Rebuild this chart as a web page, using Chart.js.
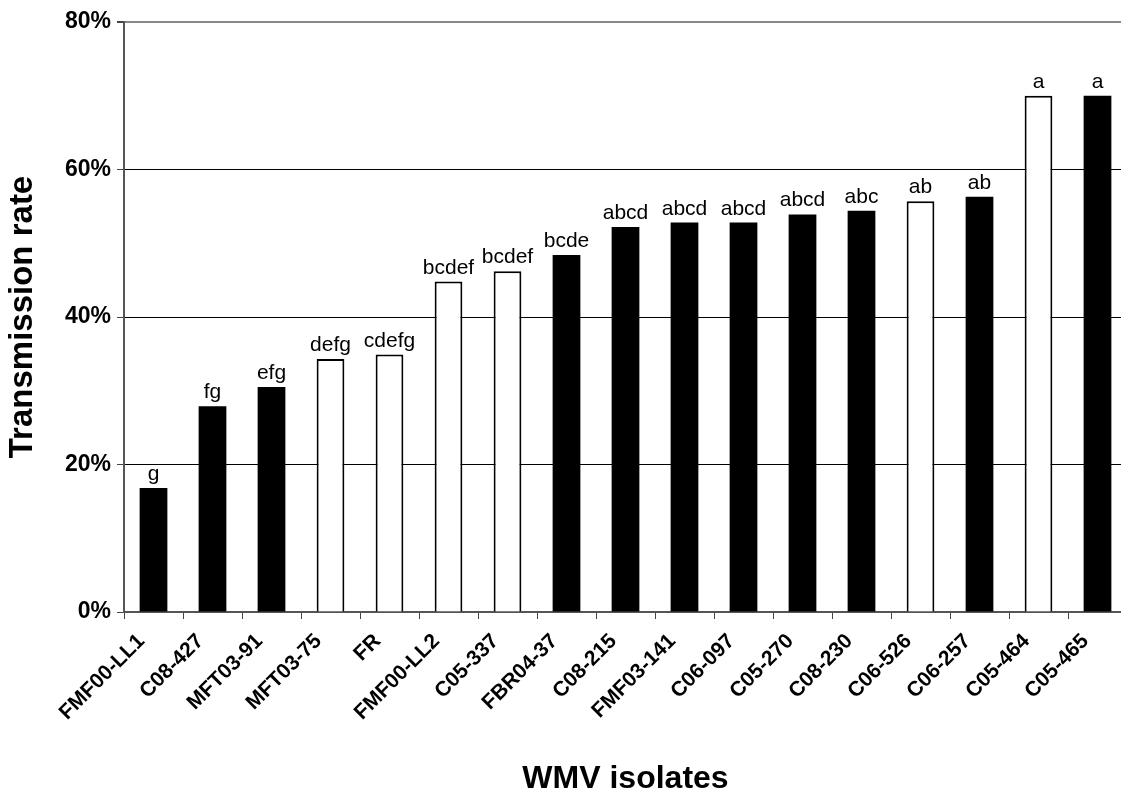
<!DOCTYPE html>
<html>
<head>
<meta charset="utf-8">
<script src="https://cdn.jsdelivr.net/npm/chart.js@4"></script>
<style>
  html, body { margin: 0; padding: 0; background: #fff; overflow: hidden; }
</style>
</head>
<body>
<canvas id="chart" width="1135" height="789"></canvas>
<script>
const isolates = ['FMF00-LL1', 'C08-427', 'MFT03-91', 'MFT03-75', 'FR', 'FMF00-LL2', 'C05-337',
    'FBR04-37', 'C08-215', 'FMF03-141', 'C06-097', 'C05-270', 'C08-230', 'C06-526',
    'C06-257', 'C05-464', 'C05-465'];
const rates = [16.8, 27.9, 30.5, 34.3, 34.9, 44.8, 46.2, 48.4, 52.2, 52.8, 52.8, 53.9, 54.4,
    55.7, 56.3, 70.0, 70.0];
const groups = ['g', 'fg', 'efg', 'defg', 'cdefg', 'bcdef', 'bcdef', 'bcde', 'abcd', 'abcd',
    'abcd', 'abcd', 'abc', 'ab', 'ab', 'a', 'a'];
// true = open (white) bar
const openBar = [false, false, false, true, true, true, true, false, false, false, false,
    false, false, true, false, true, false];
const yTicks = [0, 20, 40, 60, 80];

const FONT = "'Liberation Sans', Arial, sans-serif";

const letterPlugin = {
    id: 'letters',
    afterDatasetsDraw(chart) {
        const ctx = chart.ctx;
        const meta = chart.getDatasetMeta(0);
        ctx.save();
        ctx.font = '21px ' + FONT;
        ctx.fillStyle = '#000';
        ctx.textAlign = 'center';
        ctx.textBaseline = 'alphabetic';
        meta.data.forEach((bar, i) => {
            ctx.fillText(groups[i], bar.x, bar.y - 8);
        });
        ctx.restore();
    }
};

new Chart(document.getElementById('chart'), {
    type: 'bar',
    data: {
        labels: isolates,
        datasets: [{
            data: rates,
            backgroundColor: openBar.map(o => o ? '#fff' : '#000'),
            borderColor: '#000',
            borderWidth: openBar.map(o => o ? 2 : 0),
            barPercentage: 0.47,
            categoryPercentage: 1
        }]
    },
    options: {
        responsive: false,
        devicePixelRatio: 1,
        animation: false,
        layout: { padding: { top: 22, right: 8, left: 0, bottom: 0 } },
        plugins: {
            legend: { display: false },
            tooltip: { enabled: false }
        },
        scales: {
            x: {
                grid: {
                    drawOnChartArea: false,
                    color: '#444',
                    tickLength: 7,
                    offset: true
                },
                border: { color: '#555', width: 2 },
                ticks: {
                    color: '#000',
                    font: { family: FONT, size: 21, weight: 'bold' },
                    minRotation: 45,
                    maxRotation: 45,
                    autoSkip: false,
                    padding: 10,
                    labelOffset: -12
                },
                title: {
                    display: true,
                    text: 'WMV isolates',
                    color: '#000',
                    font: { family: FONT, size: 32, weight: 'bold', lineHeight: '20px' },
                    padding: { top: 0, bottom: 0 }
                },
                afterFit: s => { s.height = 177; }
            },
            y: {
                min: 0,
                max: 80,
                afterBuildTicks: s => { s.ticks = yTicks.map(v => ({ value: v })); },
                grid: {
                    color: c => c.tick && c.tick.value === 80 ? '#888' : '#000',
                    lineWidth: c => c.tick && c.tick.value === 80 ? 2 : 1,
                    tickColor: '#444',
                    tickLength: 7
                },
                border: { color: '#555', width: 2 },
                ticks: {
                    color: '#000',
                    font: { family: FONT, size: 23, weight: 'bold' },
                    padding: 6,
                    callback: v => v + '%'
                },
                title: {
                    display: true,
                    text: 'Transmission rate',
                    color: '#000',
                    font: { family: FONT, size: 33, weight: 'bold', lineHeight: '33px' },
                    padding: { top: 6, bottom: 0 }
                },
                afterFit: s => { s.width = 124; }
            }
        }
    },
    plugins: [letterPlugin]
});
</script>
</body>
</html>
